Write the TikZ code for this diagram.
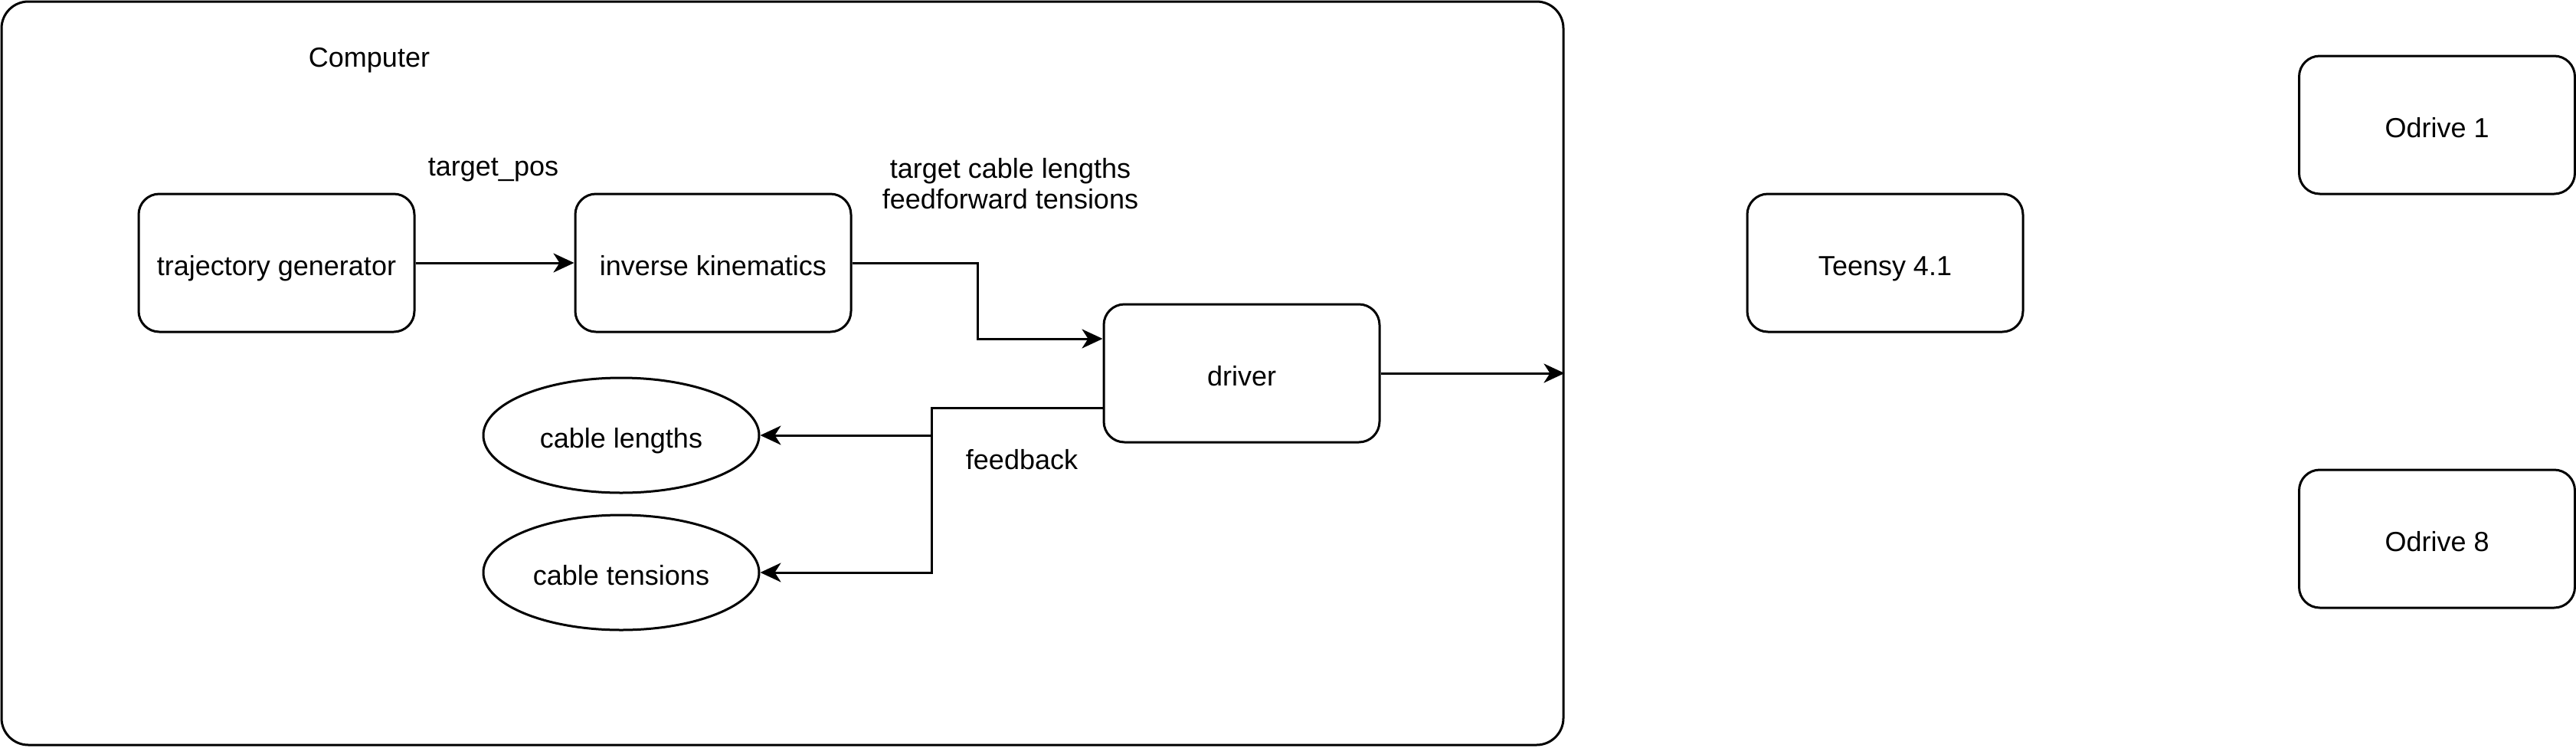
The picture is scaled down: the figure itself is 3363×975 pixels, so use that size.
\documentclass[tikz,border=0pt]{standalone}
\usepackage{fontspec}
\setmainfont{Liberation Sans}
\usetikzlibrary{arrows.meta,shapes.geometric,calc}
\begin{document}
\begin{tikzpicture}[x=0.25pt,y=-0.25pt,
  font=\fontsize{9}{10}\selectfont,
  line width=0.75pt,
  box/.style={draw,rounded corners=6.75pt,minimum width=90pt,minimum height=45pt,inner sep=0pt,text height=8.2pt,text depth=0pt},
  oval/.style={draw,ellipse,minimum width=90pt,minimum height=37.5pt,inner sep=0pt,text height=8.2pt,text depth=0pt},
  frame/.style={draw,rounded corners=8.75pt,minimum width=509.75pt,minimum height=242.5pt,inner sep=0pt},
  lbl/.style={inner sep=0pt,align=center},
  arr/.style={-{Stealth[length=6.75pt,width=6.25pt,inset=2pt]}}]
\useasboundingbox (0,0) rectangle (3363,975);
\node[frame] (computer) at (1021.5,487) {};
\node[lbl] (comptxt) at (482,79) {Computer};
\node[box] (tg) at (361,343) {trajectory generator};
\node[box] (ik) at (931,343) {inverse kinematics};
\node[box] (drv) at (1621,487) {driver};
\node[oval] (cl) at (811,568) {cable lengths};
\node[oval] (ct) at (811,747) {cable tensions};
\node[box] (teensy) at (2461,343) {Teensy 4.1};
\node[box] (od1) at (3181.5,163) {Odrive 1};
\node[box] (od8) at (3181.5,703) {Odrive 8};
\node[lbl] (tplbl) at (644,222) {target\_pos};
\node[lbl] (tcl) at (1319,240) {target cable lengths\\feedforward tensions};
\node[lbl] (fblbl) at (1334,600) {feedback};
\coordinate (fb) at (1216,532);
\draw[arr] (tg.east) -- (ik.east -| ik.west);
\draw[arr] (ik.east) -- (1276,343) |- ([yshift=11.25pt]drv.west);
\draw[arr] (drv.east) -- (drv.east -| computer.east);
\draw[arr] ([yshift=-11.25pt]drv.west) -- (fb) |- (cl.east);
\draw[arr] (fb) |- (ct.east);
\end{tikzpicture}
\end{document}
